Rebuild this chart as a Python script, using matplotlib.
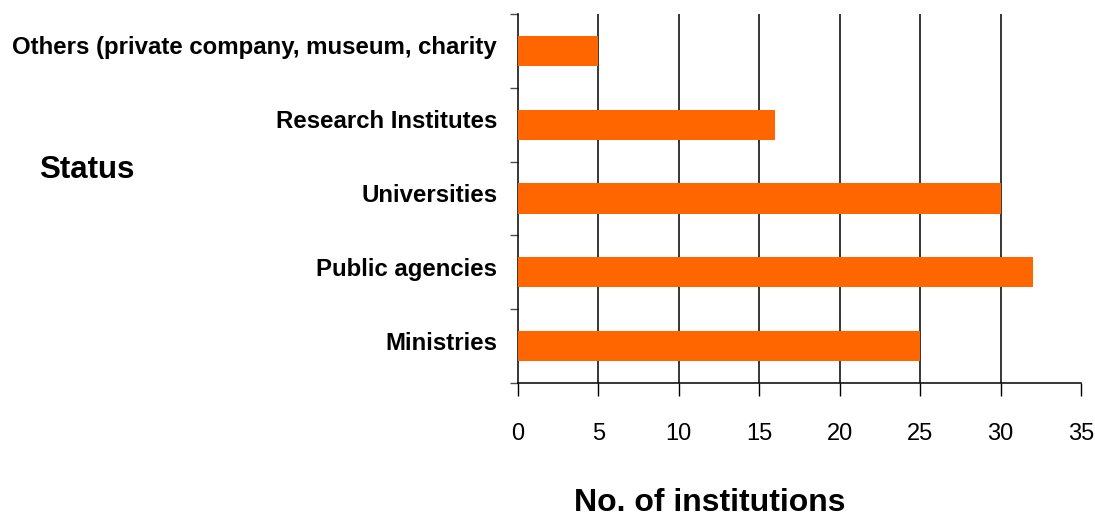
import numpy as np
import matplotlib.pyplot as plt
import matplotlib.transforms as mtransforms

plt.rcParams["font.family"] = ["Liberation Sans", "DejaVu Sans"]

categories = ["Ministries", "Public agencies", "Universities",
              "Research Institutes", "Others (private company, museum, charity"]
counts = [25, 32, 30, 16, 5]
xticks = [0, 5, 10, 15, 20, 25, 30, 35]

fig = plt.figure(figsize=(10.95, 5.17), dpi=100)
ax = fig.add_axes([518 / 1095, 1 - 383 / 517, (1081 - 518) / 1095, (383 - 14) / 517])

y = np.arange(len(categories))
ax.barh(y, counts, height=0.41, color="#FF6600", zorder=3)

ax.set_xlim(0, 35)
ax.set_ylim(-0.5, len(categories) - 0.5)

# vertical gridlines (black, between 0 and 35)
for v in xticks[1:-1]:
    ax.axvline(v, color="black", linewidth=1.1, zorder=1)

ax.set_xticks(xticks)
ax.tick_params(axis="x", length=9, width=1, pad=20, labelsize=17, direction="out")

ax.set_yticks(y)
ax.set_yticklabels(categories, fontweight="bold", fontsize=17.3)
ax.tick_params(axis="y", length=0, pad=15)
shift = mtransforms.ScaledTranslation(0, 4 / 72, fig.dpi_scale_trans)
for lbl in ax.get_yticklabels():
    lbl.set_transform(lbl.get_transform() + shift)
ax.set_yticks(np.arange(-0.5, len(categories)), minor=True)
ax.tick_params(axis="y", which="minor", length=6, width=1, color="0.3")

for s in ["top", "right"]:
    ax.spines[s].set_visible(False)
for s in ["left", "bottom"]:
    ax.spines[s].set_linewidth(1.1)

fig.text(710 / 1095, 1 - 503 / 517, "No. of institutions", fontsize=23,
         fontweight="bold", ha="center", va="center")
fig.text(87 / 1095, 1 - 170 / 517, "Status", fontsize=22.5,
         fontweight="bold", ha="center", va="center")

fig.savefig("out.png", dpi=100)
